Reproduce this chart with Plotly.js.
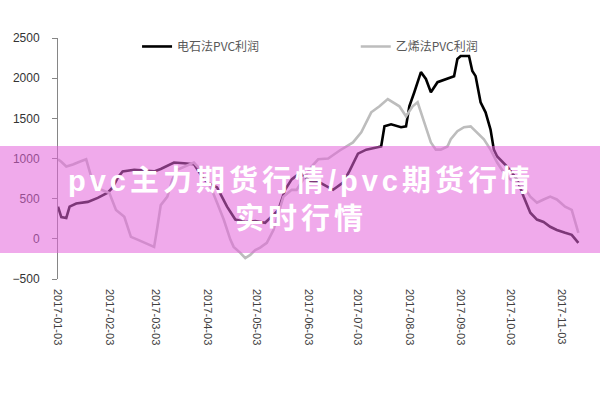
<!DOCTYPE html>
<html>
<head>
<meta charset="utf-8">
<script src="https://cdn.plot.ly/plotly-3.0.1.min.js"></script>
<style>
html,body{margin:0;padding:0;background:#fff;}
#chart{width:600px;height:400px;}
#chart .annotation-text{letter-spacing:4px;}
</style>
</head>
<body>
<div id="chart"></div>
<script>
// 电石法PVC利润
const carbideDates = ['2017-01-03','2017-01-05','2017-01-08','2017-01-10','2017-01-14','2017-01-21','2017-01-27','2017-02-02','2017-02-05','2017-02-08','2017-02-11','2017-02-18','2017-02-24','2017-03-02','2017-03-06','2017-03-09','2017-03-14','2017-03-20','2017-03-26','2017-04-01','2017-04-05','2017-04-09','2017-04-15','2017-04-20','2017-04-26','2017-05-02','2017-05-08','2017-05-12','2017-05-16','2017-05-20','2017-05-24','2017-05-29','2017-06-04','2017-06-10','2017-06-18','2017-06-24','2017-06-28','2017-07-03','2017-07-08','2017-07-17','2017-07-19','2017-07-23','2017-07-29','2017-08-01','2017-08-03','2017-08-06','2017-08-10','2017-08-13','2017-08-16','2017-08-20','2017-08-26','2017-08-30','2017-09-01','2017-09-03','2017-09-08','2017-09-10','2017-09-12','2017-09-13','2017-09-15','2017-09-18','2017-09-21','2017-09-23','2017-09-25','2017-10-01','2017-10-07','2017-10-11','2017-10-15','2017-10-19','2017-10-23','2017-10-27','2017-10-31','2017-11-05','2017-11-09','2017-11-13'];
const carbideProfit = [400,270,260,400,440,460,510,575,640,760,840,860,850,840,870,900,950,940,930,740,680,640,400,240,210,220,200,280,360,610,740,820,720,700,610,700,850,1060,1110,1150,1400,1425,1390,1400,1650,1825,2075,1990,1825,1950,1990,2025,2240,2275,2275,2090,2025,1900,1700,1575,1360,1110,1025,900,740,525,325,240,210,150,110,75,50,-50];

// 乙烯法PVC利润
const ethyleneDates = ['2017-01-03','2017-01-05','2017-01-08','2017-01-12','2017-01-16','2017-01-20','2017-01-23','2017-01-28','2017-02-03','2017-02-07','2017-02-12','2017-02-16','2017-02-20','2017-02-25','2017-03-02','2017-03-04','2017-03-06','2017-03-10','2017-03-13','2017-03-16','2017-03-19','2017-03-23','2017-03-26','2017-03-30','2017-04-05','2017-04-09','2017-04-13','2017-04-17','2017-04-19','2017-04-23','2017-04-26','2017-04-29','2017-05-02','2017-05-05','2017-05-09','2017-05-13','2017-05-17','2017-05-19','2017-05-24','2017-05-27','2017-06-01','2017-06-05','2017-06-09','2017-06-15','2017-06-22','2017-06-26','2017-06-30','2017-07-05','2017-07-11','2017-07-16','2017-07-21','2017-07-28','2017-08-01','2017-08-05','2017-08-08','2017-08-12','2017-08-16','2017-08-19','2017-08-22','2017-08-26','2017-08-28','2017-09-01','2017-09-05','2017-09-09','2017-09-13','2017-09-17','2017-09-21','2017-09-25','2017-09-29','2017-10-03','2017-10-07','2017-10-11','2017-10-15','2017-10-19','2017-10-23','2017-10-27','2017-10-31','2017-11-05','2017-11-09','2017-11-12','2017-11-13'];
const ethyleneProfit = [990,960,900,925,960,990,775,620,570,360,275,25,-10,-60,-100,150,420,525,740,860,890,920,950,860,650,450,240,-10,-100,-175,-240,-200,-140,-110,-50,110,400,525,610,610,775,900,990,1000,1100,1150,1200,1325,1575,1650,1740,1650,1525,1650,1700,1450,1200,1110,1110,1150,1240,1340,1390,1400,1325,1240,1110,950,825,740,700,650,525,450,490,525,490,400,360,150,75];

const seriesNames = ['电石法PVC利润','乙烯法PVC利润'];
const yTicks = [-500,0,500,1000,1500,2000,2500];
const xRange = ['2017-01-03','2017-11-17'];
const overlayText = 'pvc主力期货行情/pvc期货行情<br>实时行情';

const traces = [
  {x: carbideDates, y: carbideProfit, name: seriesNames[0], type: 'scatter', mode: 'lines',
   line: {color: '#000000', width: 2.6}, legend: 'legend'},
  {x: ethyleneDates, y: ethyleneProfit, name: seriesNames[1], type: 'scatter', mode: 'lines',
   line: {color: '#BDBDBD', width: 2.6}, legend: 'legend2'}
];

const axisGray = '#868686';
const layout = {
  width: 600, height: 400,
  margin: {l: 58, r: 15, t: 38, b: 121},
  paper_bgcolor: '#ffffff', plot_bgcolor: '#ffffff',
  font: {family: 'Liberation Sans, Arial, sans-serif', color: '#404040'},
  xaxis: {
    type: 'date', range: xRange, tick0: '2017-01-03', dtick: 'M1',
    tickformat: '%Y-%m-%d', tickangle: 90, ticks: '', showline: false,
    showgrid: false, zeroline: false, ticklabelstandoff: 9,
    tickfont: {size: 11, color: '#404040', family: 'Liberation Sans, Arial, sans-serif'}
  },
  xaxis2: {
    type: 'date', range: xRange, tick0: '2017-01-03', dtick: 'M1',
    overlaying: 'x', anchor: 'free', position: 1/6, showticklabels: false,
    ticks: 'outside', ticklen: 4, tickcolor: axisGray, showline: true,
    linecolor: axisGray, linewidth: 1, showgrid: false, zeroline: false
  },
  yaxis: {
    range: [-500, 2500], tickvals: yTicks, ticks: 'outside', ticklen: 5,
    tickcolor: axisGray, showline: true, linecolor: axisGray, linewidth: 1,
    showgrid: false, zeroline: false, ticklabelstandoff: 10,
    tickfont: {size: 12, color: '#333333', family: 'Liberation Sans, Arial, sans-serif'}
  },
  showlegend: true,
  legend: {x: 0.15, y: 1.025, xanchor: 'left', yanchor: 'top', orientation: 'h',
    bgcolor: 'rgba(0,0,0,0)', font: {size: 12, color: '#595959', family: 'Noto Sans CJK SC, sans-serif'}},
  legend2: {x: 0.565, y: 1.025, xanchor: 'left', yanchor: 'top', orientation: 'h',
    bgcolor: 'rgba(0,0,0,0)', font: {size: 12, color: '#595959', family: 'Noto Sans CJK SC, sans-serif'}},
  shapes: [{
    type: 'rect', xref: 'paper', yref: 'paper',
    x0: -0.12, x1: 1.04, y0: 0.108, y1: 0.552,
    fillcolor: 'rgba(228,100,218,0.55)', line: {width: 0}, layer: 'above'
  }],
  annotations: [
    {xref: 'paper', yref: 'paper', x: 0.461, y: 0.326, xanchor: 'center', yanchor: 'middle',
     text: overlayText, showarrow: false, align: 'center',
     font: {size: 29, color: '#ffffff', family: 'Liberation Sans, Noto Sans CJK SC, sans-serif', weight: 'bold'}}
  ]
};

Plotly.newPlot('chart', traces, layout, {displayModeBar: false, staticPlot: true});
</script>
</body>
</html>
